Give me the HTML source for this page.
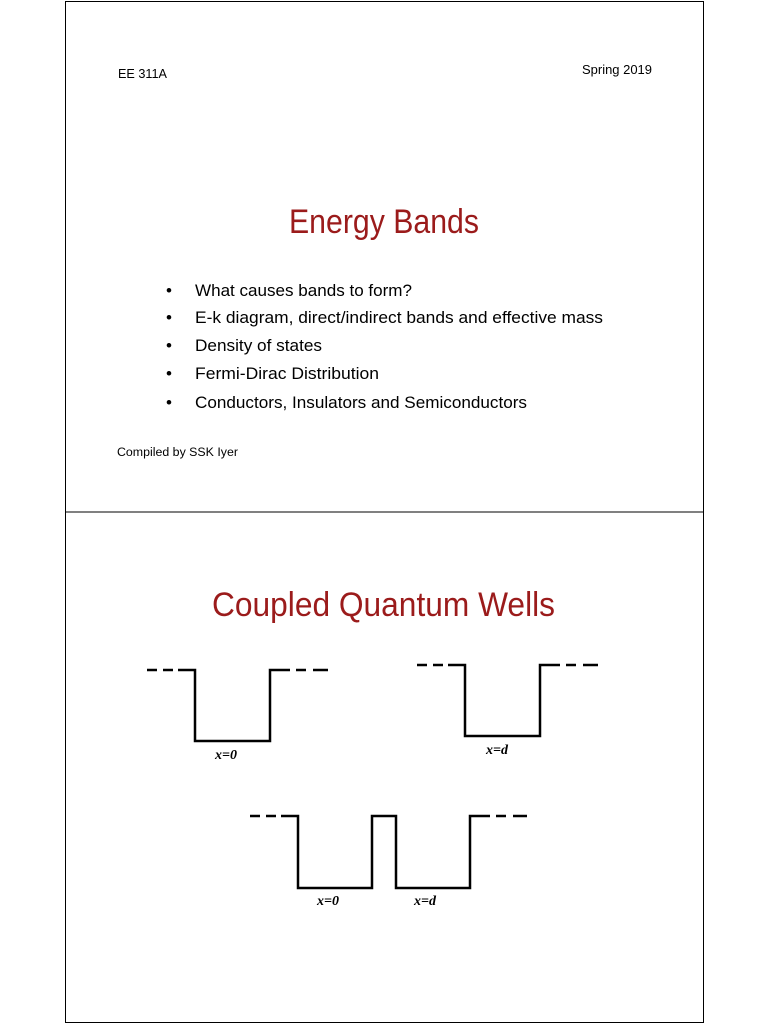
<!DOCTYPE html>
<html><head><meta charset="utf-8"><style>
html,body{margin:0;padding:0;background:#fff;width:768px;height:1024px;overflow:hidden}
svg{display:block}
.s{font-family:"Liberation Sans",sans-serif}
</style></head><body>
<svg width="768" height="1024" viewBox="0 0 768 1024" xmlns="http://www.w3.org/2000/svg">
<rect x="65.5" y="1.5" width="638" height="1021" fill="none" stroke="#000" stroke-width="1"/>
<line x1="65" y1="512" x2="704" y2="512" stroke="#000" stroke-width="1"/>
<g class="s" fill="#000">
<text x="118" y="78" font-size="13" textLength="49" lengthAdjust="spacingAndGlyphs">EE 311A</text>
<text x="582" y="74" font-size="13" textLength="70" lengthAdjust="spacingAndGlyphs">Spring 2019</text>
<text x="289" y="233" font-size="34" fill="#9b1b1b" textLength="190" lengthAdjust="spacingAndGlyphs">Energy Bands</text>
<g font-size="17">
<text x="166" y="296">•</text><text x="195" y="296" textLength="217" lengthAdjust="spacingAndGlyphs">What causes bands to form?</text>
<text x="166" y="323">•</text><text x="195" y="323" textLength="408" lengthAdjust="spacingAndGlyphs">E-k diagram, direct/indirect bands and effective mass</text>
<text x="166" y="351">•</text><text x="195" y="351" textLength="127" lengthAdjust="spacingAndGlyphs">Density of states</text>
<text x="166" y="379">•</text><text x="195" y="379" textLength="184" lengthAdjust="spacingAndGlyphs">Fermi-Dirac Distribution</text>
<text x="166" y="408">•</text><text x="195" y="408" textLength="332" lengthAdjust="spacingAndGlyphs">Conductors, Insulators and Semiconductors</text>
</g>
<text x="117" y="456" font-size="11.5" textLength="121" lengthAdjust="spacingAndGlyphs">Compiled by SSK Iyer</text>
<text x="212" y="616" font-size="34" fill="#9b1b1b" textLength="343" lengthAdjust="spacingAndGlyphs">Coupled Quantum Wells</text>
</g>
<g fill="none" stroke="#000" stroke-width="2.5">
<path d="M147 670 H157 M163 670 H173 M178 670 H195 V741 H270 V670 H290 M296 670 H306 M313 670 H328"/>
<path d="M417 665 H427 M433 665 H443 M448 665 H465 V736 H540 V665 H560 M566 665 H576 M583 665 H598"/>
<path d="M250 816 H260 M266 816 H276 M281 816 H298 V888 H372 V816 H396 V888 H470 V816 H490 M496 816 H506 M513 816 H527"/>
</g>
<g font-family="Liberation Serif,serif" font-style="italic" font-weight="bold" font-size="14" fill="#000">
<text x="215" y="759">x=0</text>
<text x="486" y="754">x=d</text>
<text x="317" y="905">x=0</text>
<text x="414" y="905">x=d</text>
</g>
</svg>
</body></html>
